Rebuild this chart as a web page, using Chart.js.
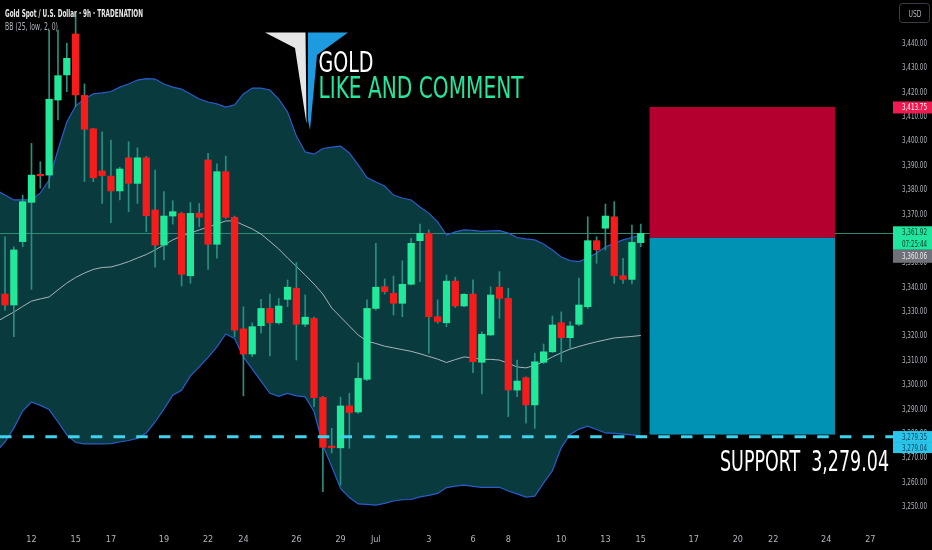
<!DOCTYPE html>
<html><head><meta charset="utf-8">
<script src="https://cdn.jsdelivr.net/npm/chart.js@4.4.1/dist/chart.umd.min.js"></script>
<style>html,body{margin:0;padding:0;background:#000;}canvas{display:block;}</style>
</head><body>
<canvas id="c" width="932" height="550"></canvas>
<script>
// ---- data ----
const opens  = [3337.0,3332.5,3358.5,3374.6,3386.0,3385.8,3416.6,3426.9,3443.7,3418.5,3404.8,3387.5,3385.4,3379.3,3392.9,3382.4,3392.9,3371.5,3357.1,3369.0,3370.1,3344.5,3370.1,3392.0,3357.4,3387.2,3368.5,3322.7,3312.4,3324.0,3331.1,3325.2,3334.8,3339.4,3324.6,3327.0,3294.6,3274.5,3273.9,3291.1,3288.6,3302.0,3331.1,3340.0,3337.3,3333.2,3341.0,3358.9,3361.9,3327.7,3325.2,3342.3,3332.1,3337.0,3309.0,3320.2,3339.8,3335.2,3297.6,3302.7,3291.5,3309.0,3313.3,3325.2,3319.1,3324.6,3331.8,3358.9,3364.0,3368.7,3344.5,3343.0,3358.1];
const highs  = [3360.5,3356.4,3377.6,3398.8,3391.3,3445.3,3445.3,3439.9,3452.2,3423.2,3405.0,3403.6,3400.2,3389.0,3399.5,3397.0,3393.5,3387.9,3379.0,3375.3,3370.5,3374.5,3374.2,3394.7,3390.4,3393.6,3369.0,3331.8,3325.2,3334.8,3337.0,3335.2,3342.8,3349.9,3336.6,3327.5,3295.0,3281.9,3294.7,3296.3,3308.8,3334.6,3357.8,3343.2,3344.4,3350.7,3359.9,3365.7,3363.3,3334.6,3344.8,3343.9,3337.2,3342.8,3321.5,3340.0,3346.2,3339.4,3309.9,3303.0,3312.7,3316.5,3328.0,3329.7,3325.7,3343.5,3368.7,3360.5,3373.9,3374.9,3351.7,3365.3,3365.7];
const lows   = [3330.4,3319.5,3356.4,3338.9,3380.4,3380.4,3408.4,3420.0,3413.9,3383.1,3383.1,3374.2,3366.3,3375.6,3370.8,3374.2,3362.6,3348.0,3351.0,3365.7,3340.3,3341.4,3364.6,3347.1,3351.7,3368.0,3319.5,3295.2,3311.3,3320.9,3311.6,3324.6,3331.8,3309.9,3323.6,3290.8,3255.9,3271.8,3258.6,3273.7,3288.0,3301.5,3330.4,3337.0,3328.4,3327.7,3340.7,3342.1,3312.7,3325.0,3323.6,3331.5,3331.8,3304.7,3296.0,3320.0,3327.0,3286.7,3294.9,3284.0,3281.9,3308.5,3313.0,3309.2,3314.7,3324.0,3331.0,3349.6,3355.1,3341.4,3341.4,3341.1,3356.4];
const closes = [3332.5,3355.1,3374.9,3385.8,3385.5,3416.9,3426.6,3433.7,3418.7,3404.6,3384.7,3385.6,3379.3,3388.3,3382.4,3392.9,3369.1,3357.1,3369.0,3370.8,3345.1,3370.1,3368.5,3357.4,3387.2,3368.5,3322.2,3312.4,3323.6,3331.1,3325.2,3332.1,3339.8,3324.6,3327.5,3294.5,3274.1,3274.0,3291.1,3288.4,3302.4,3331.1,3339.8,3338.0,3333.2,3341.0,3357.8,3361.9,3327.7,3325.7,3342.3,3332.1,3336.9,3309.2,3320.5,3336.6,3335.2,3297.6,3301.3,3291.5,3309.2,3313.3,3324.3,3319.1,3323.9,3332.5,3358.9,3355.1,3369.0,3344.5,3343.0,3358.2,3361.92];

// Bollinger bands BB(25, low, 2, 0), first value at bar index -1
const bandStart = -1;
const upperBand  = [3379.7,3377.6,3375.6,3375.6,3375.6,3378.5,3383.8,3396.1,3407.6,3414.2,3417.0,3419.1,3419.5,3420.1,3421.9,3423.2,3424.8,3425.4,3425.2,3423.2,3421.9,3421.1,3419.1,3417.0,3415.8,3415.0,3413.7,3414.6,3419.1,3421.5,3421.5,3420.7,3417.0,3411.7,3401.8,3395.3,3394.4,3396.7,3397.3,3397.7,3394.9,3390.0,3384.8,3383.0,3381.3,3377.6,3376.4,3375.6,3372.7,3370.2,3366.6,3361.2,3362.5,3363.3,3363.1,3362.7,3362.9,3363.0,3362.0,3360.2,3359.6,3359.2,3357.5,3355.1,3352.2,3350.7,3350.3,3351.8,3353.8,3356.3,3357.9,3359.2,3360.2,3361.2];
const middleBand = [3325.5,3327.6,3329.6,3331.9,3334.1,3335.0,3335.8,3338.7,3341.5,3343.8,3345.6,3347.1,3347.9,3348.1,3349.1,3350.3,3351.8,3353.2,3355.1,3357.1,3359.2,3360.8,3362.0,3363.3,3364.5,3365.7,3367.0,3367.0,3365.3,3363.7,3361.6,3358.6,3355.5,3351.8,3348.3,3344.8,3341.1,3337.0,3331.3,3327.6,3323.9,3320.2,3317.7,3316.7,3315.6,3314.9,3314.2,3313.5,3312.5,3311.4,3310.3,3308.9,3310.1,3311.2,3310.8,3310.2,3310.2,3309.9,3308.6,3307.1,3306.7,3307.7,3309.3,3311.2,3312.9,3314.4,3315.5,3316.5,3317.4,3318.2,3319.0,3319.3,3319.6,3320.0];
const lowerBand  = [3272.2,3276.3,3282.0,3289.0,3292.7,3291.3,3289.6,3284.5,3279.2,3276.1,3275.5,3275.5,3275.5,3275.6,3276.3,3276.9,3277.8,3280.0,3284.5,3289.8,3295.5,3297.5,3303.4,3307.1,3311.0,3315.3,3320.6,3318.8,3311.2,3306.2,3301.3,3296.3,3295.0,3296.2,3295.2,3294.8,3288.8,3274.9,3266.2,3257.2,3253.5,3250.9,3250.7,3250.4,3251.1,3252.1,3252.6,3252.7,3253.8,3254.4,3255.2,3257.6,3258.2,3258.6,3258.1,3257.7,3257.7,3257.7,3256.2,3255.0,3253.7,3254.1,3259.5,3264.5,3274.0,3279.4,3281.6,3282.8,3281.4,3280.0,3279.8,3279.5,3279.2,3278.8];

const timeTickPos    = [3,8,12,18,23,27,33,38,42,48,53,57,63,68,72,78,83,87,93,98];
const timeTickLabels = ['12','15','17','19','22','24','26','29','Jul','3','6','8','10','13','15','17','20','22','24','27'];
const priceTicks = [3250,3260,3270,3280,3290,3300,3310,3320,3330,3340,3350,3360,3370,3380,3390,3400,3410,3420,3430,3440];

const currentPrice = 3361.92, countdown = '07:25:44';
const entryPrice = 3360.06, stopPrice = 3413.75, targetPrice = 3279.35, supportLevel = 3279.04;
const positionStart = 73, positionEnd = 94;

const titleText = 'Gold Spot / U.S. Dollar · 9h · TRADENATION';
const indicatorText = 'BB (25, low, 2, 0)';
const logoLine1 = 'GOLD', logoLine2 = 'LIKE AND COMMENT';
const supportText = 'SUPPORT  3,279.04';

// ---- styles ----
const GREEN = '#22e89a', RED = '#f81b1b', WICK = '#2a8f80';
const NARROW = "'Liberation Sans Narrow','DejaVu Sans Condensed','Roboto',sans-serif";

const idx = opens.map((_, i) => i);
const isUp = i => closes[i] >= opens[i];
const bandPts = arr => arr.map((v, k) => ({x: k + bandStart, y: v}));
const fmt = v => v.toLocaleString('en-US', {minimumFractionDigits: 2, maximumFractionDigits: 2});

function fitText(ctx, text, x, baseline, font, color, width) {
  ctx.save();
  ctx.font = font; ctx.fillStyle = color; ctx.textBaseline = 'alphabetic'; ctx.textAlign = 'left';
  const w = ctx.measureText(text).width;
  ctx.translate(x, baseline); ctx.scale(width / w, 1);
  ctx.fillText(text, 0, 0);
  ctx.restore();
}
const AXFONT = '9px ' + NARROW;
function tag(ctx, x0, x1, top, bottom, bg, lines, fg) {
  ctx.save();
  ctx.fillStyle = bg; ctx.fillRect(x0, top, x1 - x0, bottom - top);
  ctx.restore();
  const h = (bottom - top) / lines.length;
  lines.forEach((t, k) => fitText(ctx, t, 902, top + h * k + h / 2 + 3, AXFONT, fg, 25));
}

const overlay = {
  id: 'overlay',
  beforeDatasetsDraw(chart) {
    const {ctx, chartArea: a, scales: {y}} = chart;
    const py = Math.round(y.getPixelForValue(currentPrice)) + 0.5;
    ctx.save(); ctx.strokeStyle = '#2a8c77'; ctx.lineWidth = 1;
    ctx.beginPath(); ctx.moveTo(a.left, py); ctx.lineTo(a.right, py); ctx.stroke(); ctx.restore();
  },
  afterDatasetsDraw(chart) {
    const {ctx, scales: {x, y}} = chart;
    const xa = x.getPixelForValue(positionStart), xb = x.getPixelForValue(positionEnd);
    const yStop = y.getPixelForValue(stopPrice), yEntry = y.getPixelForValue(entryPrice), yTarget = y.getPixelForValue(targetPrice);
    ctx.save();
    ctx.fillStyle = '#b3002e'; ctx.fillRect(xa, yStop, xb - xa, yEntry - yStop);
    ctx.fillStyle = '#0092b4'; ctx.fillRect(xa, yEntry, xb - xa, yTarget - yEntry);
    const ys = y.getPixelForValue(supportLevel) + 1.5;
    ctx.strokeStyle = '#3fd3ee'; ctx.lineWidth = 3; ctx.setLineDash([11.5, 11.2]);
    ctx.beginPath(); ctx.moveTo(0, ys); ctx.lineTo(900, ys); ctx.stroke();
    ctx.restore();
  },
  afterDraw(chart) {
    const {ctx, chartArea: a, scales: {y}} = chart;
    const R = a.right, E = 932;
    // price scale labels from the y scale
    y.ticks.forEach(t => fitText(ctx, fmt(t.value), 902, y.getPixelForValue(t.value) + 3, AXFONT, '#b2b5be', 25));
    // price tags
    const ys = y.getPixelForValue(stopPrice);
    tag(ctx, R, E, ys - 5.5, ys + 6.5, '#f01a50', [fmt(stopPrice)], '#ffffff');
    const yc = y.getPixelForValue(currentPrice);
    tag(ctx, R, E, yc - 7, yc + 16.5, '#20e59d', [fmt(currentPrice), countdown], '#0b3326');
    tag(ctx, R, E, yc + 16.5, yc + 29.5, '#6e7179', [fmt(entryPrice)], '#eeeeee');
    const yt = y.getPixelForValue(targetPrice);
    tag(ctx, R, E, yt - 3.5, yt + 7.5, '#29c6ea', [fmt(targetPrice)], '#0b3a58');
    tag(ctx, R, E, yt + 7.5, yt + 18.5, '#29c6ea', [fmt(supportLevel)], '#0b3a58');
    // USD box
    ctx.save();
    ctx.strokeStyle = '#3a3d45'; ctx.lineWidth = 1;
    ctx.beginPath(); ctx.roundRect(899.5, 3.5, 30, 19, 3); ctx.stroke();
    ctx.restore();
    fitText(ctx, 'USD', 908.5, 16.5, AXFONT, '#b2b5be', 13);
    // header
    fitText(ctx, titleText, 5, 16.5, 'bold 10px ' + NARROW, '#e8e8ea', 138);
    fitText(ctx, indicatorText, 5, 29.5, '10px ' + NARROW, '#aeb3bd', 53);
    // logo
    ctx.save();
    ctx.fillStyle = '#e6e6e6';
    ctx.beginPath(); ctx.moveTo(265, 32.5); ctx.lineTo(305.5, 32.5); ctx.lineTo(306.5, 124); ctx.lineTo(295, 48); ctx.closePath(); ctx.fill();
    ctx.fillStyle = '#1e9be0';
    ctx.beginPath(); ctx.moveTo(308, 32.5); ctx.lineTo(348, 32.5); ctx.lineTo(317, 55); ctx.lineTo(310, 130); ctx.lineTo(308, 120); ctx.closePath(); ctx.fill();
    ctx.restore();
    fitText(ctx, logoLine1, 318.5, 71.7, '28px ' + NARROW, '#ffffff', 55);
    fitText(ctx, logoLine2, 318.5, 98.3, '30px ' + NARROW, '#25e69b', 205);
    // support caption
    fitText(ctx, supportText, 720, 471, '29px ' + NARROW, '#ffffff', 169);
  }
};

new Chart(document.getElementById('c'), {
  type: 'bar',
  data: {
    datasets: [
      {type: 'line', label: 'lower', data: bandPts(lowerBand), borderColor: '#2c5ccc', borderWidth: 1.2, pointRadius: 0, fill: false, order: 5},
      {type: 'line', label: 'upper', data: bandPts(upperBand), borderColor: '#2c5ccc', borderWidth: 1.2, pointRadius: 0, fill: '-1', backgroundColor: '#083a3e', order: 4},
      {type: 'line', label: 'basis', data: bandPts(middleBand), borderColor: '#a7b4b8', borderWidth: 1, pointRadius: 0, fill: false, order: 3},
      {type: 'bar', label: 'wicks', data: idx.map(i => ({x: i, y: [lows[i], highs[i]]})), backgroundColor: WICK, barThickness: 1, grouped: false, order: 2},
      {type: 'bar', label: 'bodies', data: idx.map(i => ({x: i, y: [opens[i], closes[i]]})), backgroundColor: idx.map(i => isUp(i) ? GREEN : RED), barThickness: 6.6, minBarLength: 1.5, grouped: false, order: 1}
    ]
  },
  options: {
    responsive: false, animation: false, devicePixelRatio: 1,
    layout: {padding: 0},
    plugins: {legend: {display: false}, tooltip: {enabled: false}, filler: {drawTime: 'beforeDatasetsDraw'}},
    scales: {
      x: {
        type: 'linear', min: -0.566, max: 100.57, offset: false,
        grid: {display: false, drawTicks: false}, border: {display: false},
        afterBuildTicks: s => { s.ticks = timeTickPos.map(v => ({value: v})); },
        afterFit: s => { s.height = 28; s.paddingLeft = 0; s.paddingRight = 0; },
        ticks: {autoSkip: false, maxRotation: 0, color: '#b2b5be', padding: 12, font: {family: NARROW, size: 9}, callback: (v, i) => timeTickLabels[i]}
      },
      y: {
        position: 'right', min: 3243.47, max: 3457.64,
        grid: {display: false, drawTicks: false}, border: {display: false},
        afterBuildTicks: s => { s.ticks = priceTicks.map(v => ({value: v})); },
        afterFit: s => { s.width = 39; s.paddingTop = 0; s.paddingBottom = 0; },
        ticks: {display: false}
      }
    }
  },
  plugins: [overlay]
});
</script>
</body></html>
